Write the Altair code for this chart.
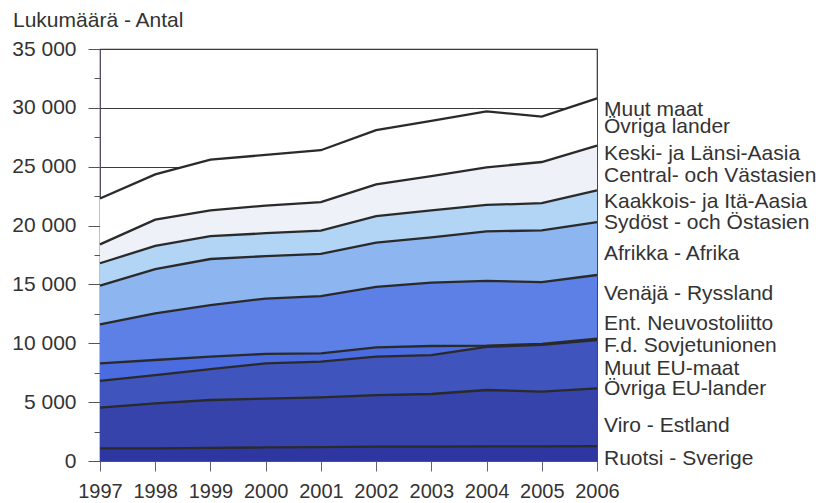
import altair as alt
import pandas as pd

years = [1997, 1998, 1999, 2000, 2001, 2002, 2003, 2004, 2005, 2006]

series = [
    "Ruotsi - Sverige",
    "Viro - Estland",
    "Muut EU-maat",
    "Ent. Neuvostoliitto",
    "Venäjä - Ryssland",
    "Afrikka - Afrika",
    "Kaakkois- ja Itä-Aasia",
    "Keski- ja Länsi-Aasia",
    "Muut maat",
]

ruotsi = [1080, 1080, 1120, 1150, 1180, 1220, 1220, 1250, 1250, 1270]
viro = [3450, 3820, 4060, 4150, 4230, 4380, 4470, 4780, 4640, 4900]
muut_eu = [2270, 2400, 2620, 3000, 3030, 3260, 3310, 3670, 3970, 4110]
ent_neuv = [1500, 1280, 1060, 800, 710, 800, 770, 100, 90, 120]
venaja = [3300, 3970, 4390, 4700, 4850, 5140, 5380, 5500, 5250, 5400]
afrikka = [3300, 3750, 3910, 3600, 3600, 3750, 3850, 4200, 4400, 4500]
kaakkois = [1900, 1970, 1940, 1950, 1970, 2250, 2300, 2250, 2300, 2700]
keski = [1600, 2230, 2200, 2350, 2430, 2700, 2900, 3200, 3500, 3800]
muut_maat = [3900, 3850, 4300, 4300, 4400, 4600, 4700, 4750, 3850, 4000]

values = [ruotsi, viro, muut_eu, ent_neuv, venaja, afrikka, kaakkois, keski, muut_maat]

colors = ["#2e36a2", "#3543ab", "#3f55bd", "#4a6ce0", "#5c80e6",
          "#8db5f0", "#b2d5f5", "#eef1f8", "#ffffff"]

y_ticks = [0, 2500, 5000, 7500, 10000, 12500, 15000, 17500, 20000,
           22500, 25000, 27500, 30000, 32500, 35000]

label_texts = [
    "Muut maat", "Övriga lander",
    "Keski- ja Länsi-Aasia", "Central- och Västasien",
    "Kaakkois- ja Itä-Aasia", "Sydöst - och Östasien",
    "Afrikka - Afrika",
    "Venäjä - Ryssland",
    "Ent. Neuvostoliitto", "F.d. Sovjetunionen",
    "Muut EU-maat", "Övriga EU-lander",
    "Viro - Estland",
    "Ruotsi - Sverige",
]
label_at = [29300, 27840, 25570, 23730, 21470, 19680, 17080,
            13680, 11130, 9290, 7310, 5610, 2490, -340]

FONT = "Liberation Sans, Arial, sans-serif"
TXT = "#333333"

rows = []
for i, (name, vals) in enumerate(zip(series, values)):
    for yr, v in zip(years, vals):
        rows.append({"year": yr, "series": name, "order": i, "value": v})
df = pd.DataFrame(rows)

labels_df = pd.DataFrame({"text": label_texts, "y": label_at,
                          "year": [years[-1]] * len(label_texts)})

x_scale = alt.Scale(domain=[years[0], years[-1]], nice=False, zero=False)
y_scale = alt.Scale(domain=[0, 35000], nice=False)

x_axis = alt.Axis(values=years, format="d", tickSize=10, labelPadding=10,
                  labelFontSize=20, labelFont=FONT, labelColor=TXT,
                  tickColor="#6a5f78", domainColor="#555555", grid=False,
                  title=None, labelFlush=False)
y_axis = alt.Axis(values=y_ticks,
                  labelExpr="datum.value % 5000 == 0 ? replace(format(datum.value, ','), ',', ' ') : ''",
                  tickSize={"condition": {"test": "datum.value % 5000 == 0", "value": 12}, "value": 6},
                  gridOpacity={"condition": {"test": "datum.value % 5000 == 0", "value": 1}, "value": 0},
                  grid=True, gridColor="#3a3a3a", gridWidth=1,
                  tickColor="#555555", domainColor="#5b4f66",
                  labelPadding=12, labelFontSize=21, labelFont=FONT,
                  labelColor=TXT, title=None, labelFlush=False)

base = alt.Chart(df).transform_stack(
    stack="value", groupby=["year"], as_=["y0", "y1"],
    sort=[alt.SortField("order", order="ascending")]
)

area = base.mark_area(interpolate="linear").encode(
    x=alt.X("year:Q", scale=x_scale, axis=x_axis),
    y=alt.Y("y1:Q", scale=y_scale, axis=y_axis),
    y2="y0:Q",
    color=alt.Color("series:N", scale=alt.Scale(domain=series, range=colors), legend=None),
    order="order:Q",
)

lines = base.mark_line(color="#2a2a2a", strokeWidth=2.3).encode(
    x=alt.X("year:Q", scale=x_scale, axis=x_axis),
    y=alt.Y("y1:Q", scale=y_scale, axis=y_axis),
    detail="series:N",
)

labels = alt.Chart(labels_df).mark_text(
    align="left", baseline="alphabetic", dx=7, fontSize=21, font=FONT, color=TXT
).encode(
    x=alt.X("year:Q", scale=x_scale, axis=x_axis),
    y=alt.Y("y:Q", scale=y_scale, axis=y_axis),
    text="text:N",
)

chart = alt.layer(area, lines, labels).properties(
    width=497, height=412,
    title=alt.TitleParams("Lukumäärä - Antal", anchor="start", frame="group",
                          dx=-87, offset=7, fontSize=21, font=FONT,
                          fontWeight="normal", color=TXT),
    autosize=alt.AutoSizeParams(type="none"),
    padding={"left": 92, "top": 41, "right": 221, "bottom": 44},
).configure_view(stroke="#333333", strokeWidth=1.2)

chart.save("out.html", embed_options={"renderer": "svg", "actions": False})
